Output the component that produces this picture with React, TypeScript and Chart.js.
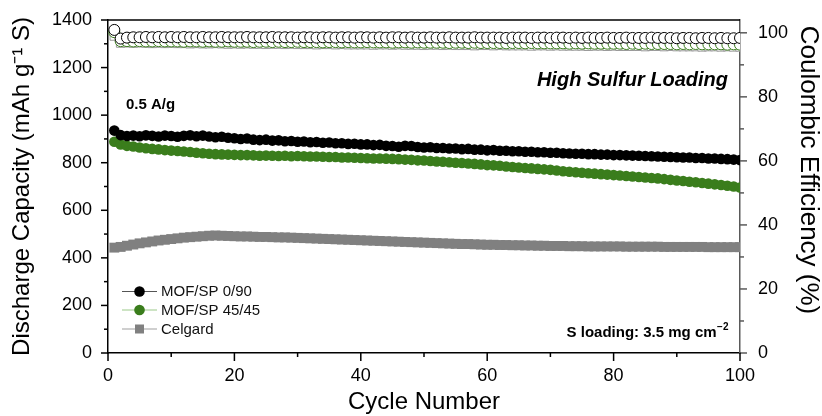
import React, { useEffect, useRef } from 'react';
import { Chart, registerables } from 'chart.js';

Chart.register(...registerables);

const FONT = '"Liberation Sans", Arial, Helvetica, sans-serif';

// categories: cycle numbers 1..100
const cycles = Array.from({ length: 100 }, (_, i) => i + 1);

const seriesNames = ['MOF/SP 0/90', 'MOF/SP 45/45', 'Celgard'];

// Discharge capacity (mAh g-1 S)
const capMof090 = [
  935, 916, 912, 914, 911, 915, 913, 910, 914, 912,
  909, 913, 915, 911, 914, 910, 907, 909, 905, 903,
  900, 902, 897, 895, 897, 893, 894, 890, 891, 888,
  889, 886, 887, 884, 885, 882, 882, 879, 880, 877,
  877, 874, 875, 871, 870, 867, 871, 870, 866, 864,
  865, 862, 862, 860, 860, 857, 858, 855, 855, 852,
  853, 850, 850, 848, 848, 846, 846, 844, 844, 842,
  842, 840, 839, 838, 838, 836, 836, 834, 834, 832,
  832, 831, 830, 829, 828, 827, 826, 825, 824, 823,
  822, 822, 820, 820, 818, 818, 816, 815, 813, 811,
];
const capMof4545 = [
  888, 877, 871, 868, 864, 861, 858, 856, 853, 851,
  849, 847, 845, 842, 840, 838, 836, 835, 834, 833,
  832, 832, 831, 829, 830, 829, 828, 829, 827, 828,
  827, 826, 826, 825, 824, 824, 822, 822, 821, 820,
  819, 818, 818, 817, 816, 815, 813, 812, 810, 809,
  807, 805, 804, 802, 800, 799, 797, 795, 793, 790,
  789, 787, 784, 782, 780, 778, 776, 774, 772, 770,
  767, 764, 762, 760, 758, 756, 754, 752, 750, 748,
  746, 744, 742, 740, 738, 736, 734, 731, 728, 725,
  723, 720, 718, 715, 712, 709, 706, 703, 700, 696,
];
const capCelgard = [
  443, 446, 451, 456, 461, 465, 469, 473, 476, 479,
  482, 485, 487, 489, 491, 493, 494, 493, 492, 491,
  490, 490, 489, 488, 488, 487, 486, 486, 485, 484,
  483, 482, 481, 480, 479, 478, 477, 476, 475, 474,
  473, 472, 471, 470, 469, 468, 467, 466, 465, 464,
  463, 462, 461, 460, 459, 458, 458, 457, 456, 455,
  455, 454, 454, 453, 453, 452, 452, 451, 451, 450,
  450, 450, 449, 449, 449, 448, 448, 448, 448, 448,
  448, 447, 447, 447, 447, 447, 447, 446, 446, 446,
  446, 446, 446, 446, 445, 445, 445, 445, 445, 445,
];

// Coulombic efficiency (%)
const ceMof090 = [
  100.9, 98.2, 98.5, 98.6, 98.6, 98.7, 98.6, 98.7, 98.6, 98.7,
  98.6, 98.7, 98.6, 98.6, 98.7, 98.6, 98.6, 98.7, 98.6, 98.6,
  98.6, 98.7, 98.6, 98.6, 98.6, 98.7, 98.6, 98.6, 98.6, 98.5,
  98.6, 98.6, 98.5, 98.6, 98.6, 98.5, 98.6, 98.6, 98.5, 98.6,
  98.6, 98.5, 98.6, 98.5, 98.6, 98.6, 98.5, 98.6, 98.5, 98.5,
  98.6, 98.5, 98.5, 98.6, 98.5, 98.5, 98.5, 98.6, 98.5, 98.5,
  98.5, 98.5, 98.4, 98.5, 98.5, 98.5, 98.4, 98.5, 98.5, 98.4,
  98.5, 98.5, 98.4, 98.5, 98.4, 98.5, 98.4, 98.4, 98.5, 98.4,
  98.4, 98.5, 98.4, 98.4, 98.4, 98.5, 98.4, 98.4, 98.4, 98.3,
  98.4, 98.4, 98.3, 98.4, 98.4, 98.3, 98.4, 98.3, 98.3, 98.4,
];
const ceMof4545 = [
  100.2, 97.4, 97.4, 97.3, 97.4, 97.3, 97.3, 97.4, 97.3, 97.3,
  97.3, 97.2, 97.3, 97.3, 97.2, 97.3, 97.2, 97.2, 97.3, 97.2,
  97.2, 97.2, 97.1, 97.2, 97.2, 97.1, 97.2, 97.1, 97.1, 97.2,
  97.1, 97.1, 97.1, 97.0, 97.1, 97.1, 97.0, 97.1, 97.0, 97.0,
  97.1, 97.0, 97.0, 97.0, 96.9, 97.0, 97.0, 96.9, 97.0, 96.9,
  96.9, 96.9, 96.9, 96.8, 96.9, 96.9, 96.8, 96.9, 96.8, 96.8,
  96.8, 96.8, 96.7, 96.8, 96.8, 96.7, 96.8, 96.7, 96.7, 96.7,
  96.7, 96.7, 96.6, 96.7, 96.6, 96.7, 96.6, 96.6, 96.6, 96.6,
  96.6, 96.5, 96.6, 96.5, 96.6, 96.5, 96.5, 96.5, 96.5, 96.4,
  96.5, 96.4, 96.5, 96.4, 96.4, 96.4, 96.4, 96.3, 96.4, 96.3,
];
const ceCelgard = [
  99.0, 96.8, 96.9, 96.8, 96.9, 96.8, 96.7, 96.8, 96.7, 96.8,
  96.7, 96.7, 96.6, 96.7, 96.6, 96.6, 96.7, 96.6, 96.5, 96.6,
  96.5, 96.6, 96.5, 96.5, 96.4, 96.5, 96.5, 96.4, 96.5, 96.4,
  96.4, 96.4, 96.3, 96.4, 96.4, 96.3, 96.4, 96.3, 96.3, 96.3,
  96.3, 96.2, 96.3, 96.3, 96.2, 96.3, 96.2, 96.2, 96.2, 96.1,
  96.2, 96.2, 96.1, 96.2, 96.1, 96.1, 96.1, 96.0, 96.1, 96.1,
  96.0, 96.1, 96.0, 96.0, 96.0, 96.0, 95.9, 96.0, 96.0, 95.9,
  96.0, 95.9, 95.9, 95.9, 95.9, 95.8, 95.9, 95.9, 95.8, 95.9,
  95.8, 95.8, 95.8, 95.8, 95.7, 95.8, 95.8, 95.7, 95.8, 95.7,
  95.7, 95.7, 95.7, 95.6, 95.7, 95.7, 95.6, 95.7, 95.6, 95.6,
];

const capTicks = [0, 200, 400, 600, 800, 1000, 1200, 1400];
const ceTicks = [0, 20, 40, 60, 80, 100];
const cycleTicks = [0, 20, 40, 60, 80, 100];

const BLACK = '#000000';
const GREEN = '#3a7d1c';
const GREY = '#808080';
const RIGHT_AXIS = '#5a5a5a';

const toXY = (vals: number[]) => vals.map((v, i) => ({ x: cycles[i], y: v }));
const mids = (arr: number[]) => arr.slice(1).map((v, i) => (v + arr[i]) / 2);
const plain = (v: any) => String(v);
const noPad = (s: any) => { s.paddingTop = 0; s.paddingBottom = 0; s.paddingLeft = 0; s.paddingRight = 0; };

const decorPlugin = {
  id: 'decor',
  afterDraw(chart: any) {
    const { ctx, chartArea: a, scales } = chart;
    const sx = scales.x, sy = scales.y, sy2 = scales.y2;
    ctx.save();
    const seg = (x1: number, y1: number, x2: number, y2: number, c: string, w: number) => {
      ctx.strokeStyle = c; ctx.lineWidth = w;
      ctx.beginPath(); ctx.moveTo(x1, y1); ctx.lineTo(x2, y2); ctx.stroke();
    };
    // top frame
    seg(a.left - 0.75, a.top, a.right, a.top, BLACK, 1.5);
    // left ticks
    capTicks.forEach(v => { const p = sy.getPixelForValue(v); seg(a.left - 7, p, a.left, p, BLACK, 1.5); });
    mids(capTicks).forEach(v => { const p = sy.getPixelForValue(v); seg(a.left - 4, p, a.left, p, BLACK, 1.5); });
    // right ticks
    ceTicks.forEach(v => { const p = sy2.getPixelForValue(v); seg(a.right, p, a.right + 7, p, RIGHT_AXIS, 1.5); });
    mids(ceTicks).forEach(v => { const p = sy2.getPixelForValue(v); seg(a.right, p, a.right + 4, p, RIGHT_AXIS, 1.5); });
    // bottom ticks
    cycleTicks.forEach(v => { const p = sx.getPixelForValue(v); seg(p, a.bottom, p, a.bottom + 8, BLACK, 1.5); });
    mids(cycleTicks).forEach(v => { const p = sx.getPixelForValue(v); seg(p, a.bottom, p, a.bottom + 4, BLACK, 1.5); });

    // right axis title
    ctx.save();
    ctx.translate(a.right + 68, a.top + 150);
    ctx.rotate(Math.PI / 2);
    ctx.fillStyle = BLACK;
    ctx.font = `26px ${FONT}`;
    ctx.textAlign = 'center';
    ctx.textBaseline = 'middle';
    ctx.fillText('Coulombic Efficiency (%)', 0, 0);
    ctx.restore();

    // annotations
    ctx.fillStyle = BLACK;
    ctx.textBaseline = 'alphabetic';
    ctx.font = `italic bold 20px ${FONT}`;
    ctx.textAlign = 'right';
    ctx.fillText('High Sulfur Loading', a.right - 12, a.top + 66);
    ctx.font = `bold 15px ${FONT}`;
    ctx.textAlign = 'left';
    ctx.fillText('0.5 A/g', a.left + 18, a.top + 89);

    const main = 'S loading: 3.5 mg cm';
    const sup = '\u22122';
    ctx.font = `bold 15px ${FONT}`;
    const w1 = ctx.measureText(main).width;
    ctx.font = `bold 10px ${FONT}`;
    const w2 = ctx.measureText(sup).width;
    const x0 = a.right - 12 - w1 - w2;
    ctx.font = `bold 15px ${FONT}`;
    ctx.fillText(main, x0, a.bottom - 16);
    ctx.font = `bold 10px ${FONT}`;
    ctx.fillText(sup, x0 + w1 + 0.5, a.bottom - 23);

    // legend
    const rows = [a.bottom - 61.5, a.bottom - 43, a.bottom - 24];
    const lineCols = ['#555555', '#9cc98a', '#a0a0a0'];
    const fills = [BLACK, GREEN, GREY];
    rows.forEach((yy, i) => {
      seg(a.left + 14, yy, a.left + 49, yy, lineCols[i], 1.2);
      ctx.fillStyle = fills[i];
      if (i === 2) {
        ctx.fillRect(a.left + 31.5 - 4.5, yy - 4.5, 9, 9);
      } else {
        ctx.beginPath(); ctx.arc(a.left + 31.5, yy, 5.3, 0, Math.PI * 2); ctx.fill();
      }
      ctx.fillStyle = '#111111';
      ctx.font = `15px ${FONT}`;
      ctx.textBaseline = 'middle';
      ctx.fillText(seriesNames[i], a.left + 53, yy + 0.5);
    });
    ctx.restore();
  },
};

export default function App() {
  const ref = useRef<HTMLCanvasElement | null>(null);

  useEffect(() => {
    if (!ref.current) return;
    const ceCommon = { yAxisID: 'y2', showLine: true, borderWidth: 1, pointBackgroundColor: '#ffffff', pointBorderWidth: 1, pointHoverRadius: 0 };
    const capCommon = { yAxisID: 'y', showLine: true, borderWidth: 1, pointBorderWidth: 0, pointHoverRadius: 0 };
    const chart = new Chart(ref.current, {
      type: 'line',
      data: {
        datasets: [
          { ...ceCommon, label: seriesNames[0] + ' CE', data: toXY(ceMof090), borderColor: '#444444', pointBorderColor: BLACK, pointRadius: 5.5, pointStyle: 'circle' },
          { ...ceCommon, label: seriesNames[1] + ' CE', data: toXY(ceMof4545), borderColor: GREEN, pointBorderColor: GREEN, pointRadius: 5.5, pointStyle: 'circle' },
          { ...ceCommon, label: seriesNames[2] + ' CE', data: toXY(ceCelgard), borderColor: '#aaaaaa', pointBorderColor: '#9a9a9a', pointRadius: 6, pointStyle: 'rect' },
          { ...capCommon, label: seriesNames[0], data: toXY(capMof090), borderColor: '#333333', pointBackgroundColor: BLACK, pointRadius: 5.3, pointStyle: 'circle' },
          { ...capCommon, label: seriesNames[1], data: toXY(capMof4545), borderColor: GREEN, pointBackgroundColor: GREEN, pointRadius: 5.3, pointStyle: 'circle' },
          { ...capCommon, label: seriesNames[2], data: toXY(capCelgard), borderColor: GREY, pointBackgroundColor: GREY, pointRadius: 7, pointStyle: 'rect' },
        ],
      } as any,
      options: {
        responsive: false,
        animation: false,
        devicePixelRatio: 1,
        layout: { padding: { top: 20, left: 0, right: 0, bottom: 0 }, autoPadding: false },
        plugins: { legend: { display: false }, tooltip: { enabled: false }, title: { display: false } },
        events: [],
        scales: {
          x: {
            type: 'linear', position: 'bottom', min: 0, max: 100,
            afterBuildTicks: (s: any) => { s.ticks = cycleTicks.map(v => ({ value: v })); },
            afterFit: (s: any) => { s.height = 63; noPad(s); },
            grid: { display: false, drawTicks: false },
            border: { display: true, color: BLACK, width: 1.5 },
            ticks: { padding: 12, color: BLACK, font: { family: FONT, size: 18 }, maxRotation: 0, autoSkip: false, callback: plain },
            title: { display: true, text: 'Cycle Number', color: BLACK, font: { family: FONT, size: 24, lineHeight: 1.1 }, padding: { top: 0, bottom: 0 } },
          },
          y: {
            type: 'linear', position: 'left', min: 0, max: 1400,
            afterBuildTicks: (s: any) => { s.ticks = capTicks.map(v => ({ value: v })); },
            afterFit: (s: any) => { s.width = 108; noPad(s); },
            grid: { display: false, drawTicks: false },
            border: { display: true, color: BLACK, width: 1.5 },
            ticks: { padding: 16, color: BLACK, font: { family: FONT, size: 18 }, callback: plain },
            title: { display: true, text: 'Discharge Capacity (mAh g\u207B\u00B9 S)', color: BLACK, font: { family: FONT, size: 24, lineHeight: 1.2 }, padding: { top: 8, bottom: 0 } },
          },
          y2: {
            type: 'linear', position: 'right', min: 0, max: 104,
            afterBuildTicks: (s: any) => { s.ticks = ceTicks.map(v => ({ value: v })); },
            afterFit: (s: any) => { s.width = 82; noPad(s); },
            grid: { display: false, drawTicks: false },
            border: { display: true, color: RIGHT_AXIS, width: 1.5 },
            ticks: { padding: 18, color: BLACK, font: { family: FONT, size: 18 }, callback: plain },
            title: { display: false, text: 'Coulombic Efficiency (%)' },
          },
        },
      } as any,
      plugins: [decorPlugin],
    });
    return () => chart.destroy();
  }, []);

  return (
    <div style={{ position: 'absolute', left: 0, top: 0, width: 822, height: 416, background: '#ffffff' }}>
      <canvas ref={ref} width={822} height={416} style={{ display: 'block', width: 822, height: 416 }} />
    </div>
  );
}
